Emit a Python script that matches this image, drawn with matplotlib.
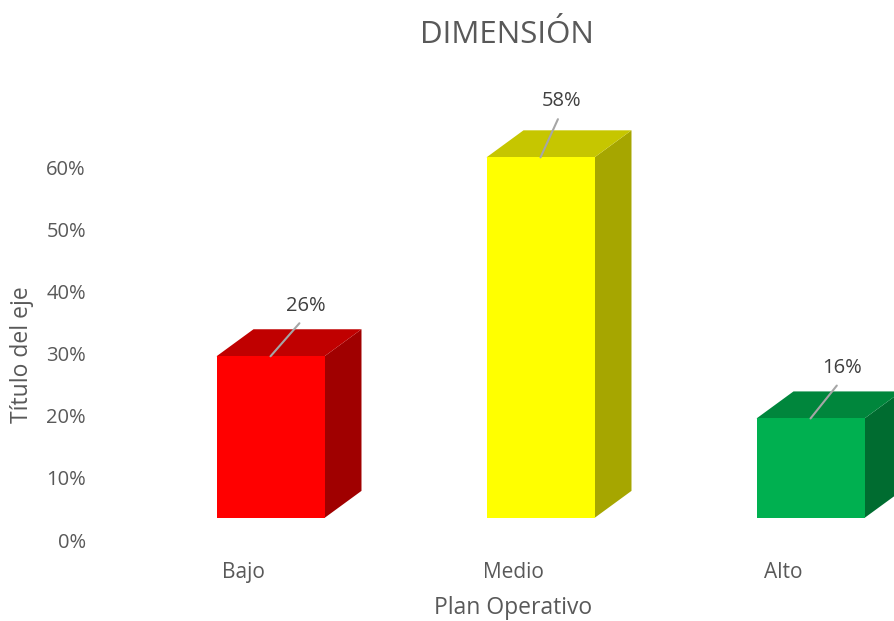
import numpy as np
import matplotlib
matplotlib.use("Agg")
import matplotlib.pyplot as plt
from matplotlib.patches import Polygon

plt.rcParams["font.family"] = ["Open Sans", "DejaVu Sans"]

# data
categories = ["Bajo", "Medio", "Alto"]
values = [26, 58, 16]  # percent
y_ticks = [0, 10, 20, 30, 40, 50, 60]

# face colours per bar: front, top, side
front_colors = ["#FF0000", "#FFFF00", "#00B050"]
top_colors = ["#C00000", "#C6C600", "#00863C"]
side_colors = ["#A00000", "#A6A600", "#006C30"]

# pseudo-3D geometry (data units)
BAR_W = 0.40
DEPTH_X = 0.137
DEPTH_Y = 4.35
FLOOR = 3.55
LABEL_DX = 0.10
# value-label placement in pixels relative to the top-front edge centre
label_offsets = [(35, 50), (21, 56), (32, 50)]

W, H = 895, 621
fig = plt.figure(figsize=(W / 100, H / 100), dpi=100)
fig.patch.set_facecolor("white")

ax_left, ax_bottom = 95, 81
px_per_unit_y = 373 / 60
ylim = (0, 70)
xlim = (-0.65, 2.35)
ax = fig.add_axes([ax_left / W, ax_bottom / H,
                   810 / W, (ylim[1] * px_per_unit_y) / H])
ax.set_xlim(*xlim)
ax.set_ylim(*ylim)
ax.patch.set_alpha(0)
for s in ax.spines.values():
    s.set_visible(False)

text_col = "#595959"
for i, v in enumerate(values):
    x0, x1 = i - BAR_W / 2, i + BAR_W / 2
    b, t = FLOOR, FLOOR + v
    side = Polygon([(x1, b), (x1 + DEPTH_X, b + DEPTH_Y),
                    (x1 + DEPTH_X, t + DEPTH_Y), (x1, t)],
                   closed=True, facecolor=side_colors[i], edgecolor="none",
                   clip_on=False, zorder=2)
    top = Polygon([(x0, t), (x1, t), (x1 + DEPTH_X, t + DEPTH_Y),
                   (x0 + DEPTH_X, t + DEPTH_Y)],
                  closed=True, facecolor=top_colors[i], edgecolor="none",
                  clip_on=False, zorder=2)
    front = Polygon([(x0, b), (x1, b), (x1, t), (x0, t)],
                    closed=True, facecolor=front_colors[i], edgecolor="none",
                    clip_on=False, zorder=3)
    for p in (side, top, front):
        ax.add_patch(p)

    dx, dy = label_offsets[i]
    ax.annotate(f"{v}%", xy=(i, t), xytext=(dx, dy),
                textcoords="offset pixels", ha="center", va="center",
                fontsize=14.5, color="#404040", zorder=5,
                annotation_clip=False,
                arrowprops=dict(arrowstyle="-", color="#A6A6A6", lw=1.5,
                                shrinkA=4, shrinkB=0,
                                relpos=(0.5, 0.0)))

ax.set_yticks(y_ticks)
ax.set_yticklabels([f"{t}%" for t in y_ticks])
ax.set_xticks(np.arange(len(categories)) - LABEL_DX)
ax.set_xticklabels(categories)
ax.tick_params(axis="both", length=0, labelsize=14.5, labelcolor=text_col)
ax.tick_params(axis="x", labelsize=15)
ax.tick_params(axis="y", pad=6.5)
ax.tick_params(axis="x", pad=16)

ax.text((513 - ax_left) / 810, (540 - 608) / (ylim[1] * px_per_unit_y),
        "Plan Operativo", transform=ax.transAxes, ha="center", va="center",
        fontsize=16.5, color=text_col)
ax.text((22 - ax_left) / 810, (540 - 355) / (ylim[1] * px_per_unit_y),
        "Título del eje", transform=ax.transAxes, ha="center", va="center",
        rotation=90, fontsize=16.5, color=text_col)

fig.text(507 / W, 1 - 35 / H, "DIMENSIÓN", ha="center", va="center",
         fontsize=22.5, color=text_col)

fig.savefig("out.png", dpi=100, facecolor="white")
